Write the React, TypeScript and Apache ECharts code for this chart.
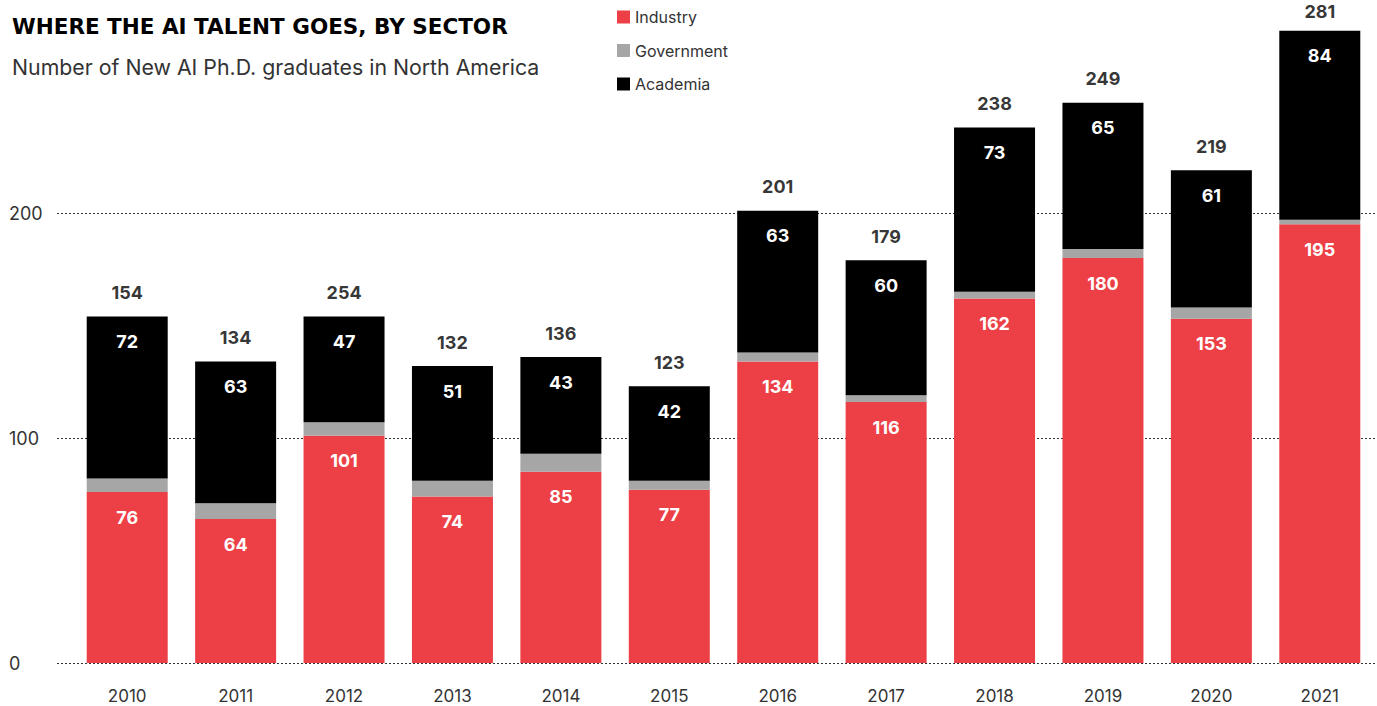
import React, { useEffect, useRef } from "react";
import * as echarts from "echarts";

const years = ["2010", "2011", "2012", "2013", "2014", "2015", "2016", "2017", "2018", "2019", "2020", "2021"];
const industry = [76, 64, 101, 74, 85, 77, 134, 116, 162, 180, 153, 195];
const government = [6, 7, 6, 7, 8, 4, 4, 3, 3, 4, 5, 2];
const academia = [72, 63, 47, 51, 43, 42, 63, 60, 73, 65, 61, 84];
const totalLabels = ["154", "134", "254", "132", "136", "123", "201", "179", "238", "249", "219", "281"];
const yTicks = [0, 100, 200];
const yMax = 294.67;

const FONT = "Inter, 'Noto Sans', sans-serif";
const WIDE = "'DejaVu Sans', Inter, sans-serif";
const RED = "#EC4046";
const GRAY = "#A6A6A6";
const BLACK = "#000000";

export default function App() {
  const ref = useRef<HTMLDivElement>(null);
  useEffect(() => {
    if (!ref.current) return;
    const chart = echarts.init(ref.current, null, { renderer: "svg" });
    const totals = years.map((_, i) => industry[i] + government[i] + academia[i]);
    const inLabel = {
      show: true,
      position: "insideTop",
      distance: 16,
      color: "#ffffff",
      fontFamily: FONT,
      fontWeight: "bold",
      fontSize: 18,
    };
    chart.setOption({
      animation: false,
      backgroundColor: "#ffffff",
      textStyle: { fontFamily: FONT },
      title: [
        {
          text: "WHERE THE AI TALENT GOES, BY SECTOR",
          left: 7,
          top: 10,
          textStyle: { fontFamily: WIDE, fontWeight: "bold", fontSize: 21.5, color: "#000" },
        },
        {
          text: "Number of New AI Ph.D. graduates in North America",
          left: 7,
          top: 51,
          textStyle: { fontFamily: FONT, fontWeight: "normal", fontSize: 21.3, color: "#333" },
        },
      ],
      legend: {
        orient: "vertical",
        left: 612,
        top: 4,
        itemWidth: 13,
        itemHeight: 13,
        itemGap: 17.5,
        icon: "rect",
        data: ["Industry", "Government", "Academia"],
        textStyle: { fontFamily: FONT, fontSize: 16, color: "#333" },
      },
      grid: [
        { left: 57, right: 0, top: 0, bottom: 43 },
        { left: 73, right: 3, top: 0, bottom: 43 },
      ],
      xAxis: [
        { type: "value", gridIndex: 0, show: false, min: 0, max: 1 },
        {
          type: "category",
          gridIndex: 1,
          data: years,
          axisLine: { show: false },
          axisTick: { show: false },
          axisLabel: { margin: 24, fontSize: 17, color: "#333", fontFamily: FONT },
        },
      ],
      yAxis: [
        {
          type: "value",
          gridIndex: 0,
          min: 0,
          max: yMax,
          interval: 100,
          axisLine: { show: false },
          axisTick: { show: false },
          axisLabel: {
            align: "left",
            margin: 48,
            fontSize: 18,
            color: "#333",
            fontFamily: FONT,
            showMaxLabel: false,
            formatter: (v: number) => (yTicks.includes(v) ? String(v) : ""),
          },
          splitLine: {
            show: true,
            showMaxLine: false,
            lineStyle: { type: [2, 2], color: "#333", width: 1 },
          },
        },
        { type: "value", gridIndex: 1, min: 0, max: yMax, show: false, splitLine: { show: false } },
      ],
      series: [
        {
          name: "Industry",
          type: "bar",
          stack: "total",
          xAxisIndex: 1,
          yAxisIndex: 1,
          barWidth: 81,
          itemStyle: { color: RED },
          label: inLabel,
          data: industry,
        },
        {
          name: "Government",
          type: "bar",
          stack: "total",
          xAxisIndex: 1,
          yAxisIndex: 1,
          barWidth: 81,
          itemStyle: { color: GRAY },
          data: government,
        },
        {
          name: "Academia",
          type: "bar",
          stack: "total",
          xAxisIndex: 1,
          yAxisIndex: 1,
          barWidth: 81,
          itemStyle: { color: BLACK },
          label: inLabel,
          data: academia,
        },
        {
          name: "Total",
          type: "scatter",
          xAxisIndex: 1,
          yAxisIndex: 1,
          symbolSize: 0,
          silent: true,
          label: {
            show: true,
            position: "top",
            distance: 15,
            color: "#000",
            fontFamily: FONT,
            fontWeight: "bold",
            fontSize: 18,
            formatter: (p: any) => totalLabels[p.dataIndex],
          },
          data: totals.map((v, i) =>
            i === totals.length - 1 ? { value: v, label: { distance: 10 } } : v
          ),
        },
      ],
    });
    return () => chart.dispose();
  }, []);
  return (
    <div
      ref={ref}
      style={{ position: "fixed", left: 0, top: 0, width: 1377, height: 706, background: "#fff" }}
    />
  );
}
